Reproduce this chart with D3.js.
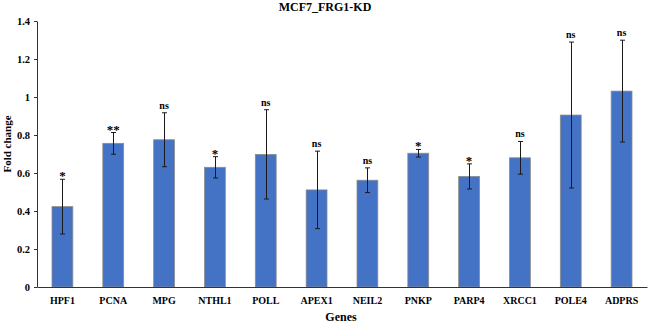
<!DOCTYPE html>
<html>
<head>
<meta charset="utf-8">
<script src="https://cdn.jsdelivr.net/npm/d3@7"></script>
<style>
  body { margin: 0; background: #fff; }
  svg text { font-family: "Liberation Serif", "Times New Roman", serif; font-weight: bold; fill: #000; }
</style>
</head>
<body>
<div id="chart"></div>
<script>
// data
const genes = ["HPF1", "PCNA", "MPG", "NTHL1", "POLL", "APEX1", "NEIL2", "PNKP", "PARP4", "XRCC1", "POLE4", "ADPRS"]
const foldChange = [0.423, 0.756, 0.775, 0.630, 0.698, 0.511, 0.562, 0.704, 0.582, 0.680, 0.905, 1.031]
const errors = [0.144, 0.057, 0.142, 0.056, 0.235, 0.204, 0.065, 0.02, 0.066, 0.086, 0.384, 0.268]
const signif = ["*", "**", "ns", "*", "ns", "ns", "ns", "*", "*", "ns", "ns", "ns"]
const yTicks = [0, 0.2, 0.4, 0.6, 0.8, 1, 1.2, 1.4]

const width = 649, height = 324
const margin = { top: 21, right: 2, bottom: 37, left: 37 }

const svg = d3.select("#chart").append("svg")
  .attr("width", width)
  .attr("height", height)

const x = d3.scaleBand()
  .domain(genes)
  .range([margin.left, width - margin.right])
  .paddingInner(0.59)
  .paddingOuter(0.295)

const y = d3.scaleLinear()
  .domain([0, 1.4])
  .range([height - margin.bottom, margin.top])

// bars
svg.append("g")
  .selectAll("rect")
  .data(genes)
  .join("rect")
    .attr("x", d => x(d))
    .attr("y", (d, i) => y(foldChange[i]))
    .attr("width", x.bandwidth())
    .attr("height", (d, i) => y(0) - y(foldChange[i]))
    .attr("fill", "#4472C4")
    .attr("stroke", "#8c8c8c")
    .attr("stroke-width", 0.8)

// error bars
const err = svg.append("g").attr("stroke", "#1a1a1a").attr("stroke-width", 1)
genes.forEach((g, i) => {
  const cx = Math.round(x(g) + x.bandwidth() / 2) + 0.5
  const top = y(foldChange[i] + errors[i])
  const bot = y(foldChange[i] - errors[i])
  err.append("line").attr("x1", cx).attr("x2", cx).attr("y1", top).attr("y2", bot)
  err.append("line").attr("x1", cx - 2.5).attr("x2", cx + 2.5).attr("y1", top).attr("y2", top)
  err.append("line").attr("x1", cx - 2.5).attr("x2", cx + 2.5).attr("y1", bot).attr("y2", bot)
})

// significance labels
svg.append("g")
  .selectAll("text")
  .data(genes)
  .join("text")
    .attr("x", d => x(d) + x.bandwidth() / 2)
    .attr("y", (d, i) => y(foldChange[i] + errors[i]) - (signif[i] == "ns" ? 4 : -1))
    .attr("text-anchor", "middle")
    .style("font-size", (d, i) => signif[i] == "ns" ? "10px" : "13px")
    .text((d, i) => signif[i])

// y axis
const yAxis = svg.append("g")
  .attr("transform", `translate(${margin.left},0)`)
  .call(d3.axisLeft(y).tickValues(yTicks).tickSize(3).tickSizeOuter(0).tickFormat(d => d3.format("")(d)))
yAxis.select(".domain").attr("stroke", "#333")
yAxis.selectAll(".tick line").attr("stroke", "#333")
yAxis.selectAll(".tick text")
  .attr("x", -7)
  .style("font-size", "10.5px")
  .style("font-family", "'Liberation Serif', serif")

// x axis
const xAxis = svg.append("g")
  .attr("transform", `translate(0,${y(0)})`)
  .call(d3.axisBottom(x).tickSize(0).tickPadding(10))
xAxis.select(".domain").attr("stroke", "#333")
xAxis.selectAll(".tick text")
  .style("font-size", "10px")
  .style("font-family", "'Liberation Serif', serif")

// titles
svg.append("text")
  .attr("x", 325)
  .attr("y", 11)
  .attr("text-anchor", "middle")
  .style("font-size", "12px")
  .text("MCF7_FRG1-KD")

svg.append("text")
  .attr("x", 341)
  .attr("y", 321)
  .attr("text-anchor", "middle")
  .style("font-size", "12px")
  .text("Genes")

svg.append("text")
  .attr("transform", "translate(11,144) rotate(-90)")
  .attr("text-anchor", "middle")
  .style("font-size", "11px")
  .text("Fold change")
</script>
</body>
</html>
